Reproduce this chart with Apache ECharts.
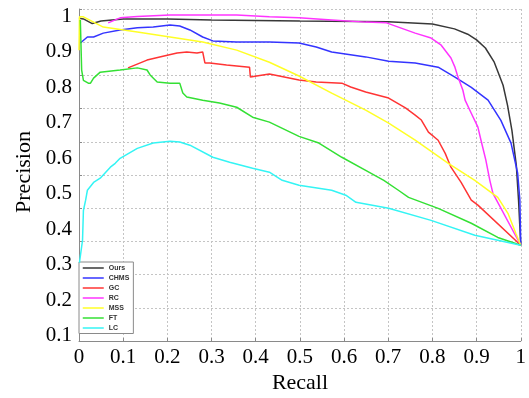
<!DOCTYPE html>
<html><head><meta charset="utf-8">
<script src="https://cdn.jsdelivr.net/npm/echarts@6/dist/echarts.min.js"></script>
<style>html,body{margin:0;padding:0;background:#fff}#c{width:529px;height:398px}</style>
</head><body><div id="c"></div>
<script>
const seriesNames = ['Ours', 'CHMS', 'GC', 'RC', 'MSS', 'FT', 'LC'];
const seriesColors = ['#383838', '#3434ff', '#ff3434', '#ff34ff', '#ffff26', '#34e034', '#34f4f4'];
const yTickLabels = [0.1, 0.2, 0.3, 0.4, 0.5, 0.6, 0.7, 0.8, 0.9, 1];

const oursRecall = [0, 0.01, 0.03, 0.05, 0.1, 0.2, 0.3, 0.5, 0.7, 0.8, 0.85, 0.88, 0.9, 0.92, 0.94, 0.96, 0.97, 0.98, 0.99, 0.995, 1];
const oursPrecision = [0.995, 0.993, 0.98, 0.987, 0.993, 0.993, 0.99, 0.987, 0.985, 0.979, 0.965, 0.95, 0.934, 0.911, 0.871, 0.806, 0.75, 0.679, 0.58, 0.482, 0.355];

const chmsRecall = [0.003, 0.019, 0.033, 0.055, 0.093, 0.132, 0.168, 0.206, 0.228, 0.251, 0.28, 0.303, 0.357, 0.431, 0.498, 0.537, 0.572, 0.649, 0.701, 0.761, 0.813, 0.851, 0.888, 0.926, 0.955, 0.978, 0.993, 0.998, 1];
const chmsPrecision = [0.925, 0.942, 0.942, 0.953, 0.962, 0.968, 0.97, 0.976, 0.973, 0.962, 0.942, 0.931, 0.928, 0.928, 0.925, 0.914, 0.9, 0.886, 0.874, 0.869, 0.857, 0.829, 0.8, 0.764, 0.707, 0.643, 0.558, 0.482, 0.355];

const gcRecall = [0.111, 0.154, 0.19, 0.222, 0.244, 0.267, 0.28, 0.285, 0.296, 0.334, 0.386, 0.388, 0.402, 0.431, 0.498, 0.537, 0.595, 0.615, 0.649, 0.701, 0.739, 0.761, 0.775, 0.791, 0.813, 0.829, 0.842, 0.865, 0.888, 0.903, 1];
const gcPrecision = [0.855, 0.877, 0.888, 0.897, 0.9, 0.897, 0.9, 0.869, 0.869, 0.863, 0.857, 0.829, 0.832, 0.838, 0.821, 0.815, 0.812, 0.801, 0.787, 0.77, 0.742, 0.722, 0.708, 0.674, 0.651, 0.614, 0.575, 0.532, 0.482, 0.468, 0.355];

const rcRecall = [0.066, 0.093, 0.132, 0.206, 0.28, 0.357, 0.431, 0.498, 0.572, 0.649, 0.696, 0.723, 0.761, 0.797, 0.82, 0.842, 0.851, 0.858, 0.869, 0.874, 0.888, 0.903, 0.91, 0.921, 0.93, 0.937, 1];
const rcPrecision = [0.982, 0.996, 1.0, 1.004, 1.004, 1.004, 0.999, 0.996, 0.99, 0.984, 0.982, 0.97, 0.953, 0.939, 0.919, 0.883, 0.857, 0.829, 0.792, 0.764, 0.727, 0.688, 0.651, 0.595, 0.538, 0.501, 0.355];

const mssRecall = [0, 0.001, 0.01, 0.055, 0.132, 0.206, 0.28, 0.357, 0.431, 0.498, 0.572, 0.649, 0.701, 0.761, 0.836, 0.896, 0.948, 0.971, 0.989, 1];
const mssPrecision = [0.905, 0.999, 0.999, 0.97, 0.956, 0.942, 0.928, 0.905, 0.871, 0.832, 0.784, 0.736, 0.699, 0.651, 0.586, 0.538, 0.49, 0.445, 0.388, 0.355];

const ftRecall = [0.003, 0.006, 0.01, 0.021, 0.026, 0.033, 0.048, 0.093, 0.132, 0.154, 0.161, 0.177, 0.206, 0.228, 0.235, 0.244, 0.28, 0.318, 0.357, 0.393, 0.431, 0.498, 0.543, 0.595, 0.649, 0.69, 0.723, 0.746, 0.813, 0.888, 0.948, 1];
const ftPrecision = [0.99, 0.849, 0.82, 0.812, 0.812, 0.826, 0.843, 0.849, 0.855, 0.849, 0.835, 0.815, 0.812, 0.812, 0.784, 0.773, 0.764, 0.756, 0.744, 0.716, 0.702, 0.662, 0.643, 0.603, 0.566, 0.538, 0.51, 0.49, 0.459, 0.417, 0.377, 0.355];

const lcRecall = [0.001, 0.008, 0.01, 0.015, 0.019, 0.033, 0.048, 0.071, 0.082, 0.093, 0.132, 0.168, 0.206, 0.228, 0.251, 0.303, 0.341, 0.393, 0.431, 0.46, 0.498, 0.572, 0.604, 0.627, 0.701, 0.797, 0.896, 1];
const lcPrecision = [0.306, 0.369, 0.453, 0.482, 0.51, 0.532, 0.544, 0.575, 0.586, 0.6, 0.628, 0.643, 0.648, 0.646, 0.637, 0.603, 0.589, 0.572, 0.561, 0.538, 0.524, 0.51, 0.496, 0.476, 0.459, 0.425, 0.383, 0.355];

const recalls = [oursRecall, chmsRecall, gcRecall, rcRecall, mssRecall, ftRecall, lcRecall];
const precisions = [oursPrecision, chmsPrecision, gcPrecision, rcPrecision, mssPrecision, ftPrecision, lcPrecision];

const zip = (a, b) => a.map((v, i) => [v, b[i]]);
const serif = 'Liberation Serif';

const chart = echarts.init(document.getElementById('c'), null, {renderer: 'canvas'});
chart.setOption({
  animation: false,
  backgroundColor: '#fff',
  grid: {left: 79, right: 6, top: 9, bottom: 57, containLabel: false},
  xAxis: {
    type: 'value', min: 0, max: 1, interval: 0.1,
    axisLine: {show: true, lineStyle: {color: '#8a8a8a', width: 1}},
    axisTick: {show: true, inside: true, length: 3, lineStyle: {color: '#8a8a8a'}},
    axisLabel: {color: '#000', fontFamily: serif, fontSize: 21, margin: 6},
    splitLine: {show: true, lineStyle: {color: '#c4c4c4', type: [2, 2], width: 1}}
  },
  yAxis: [{
    type: 'value', min: 0, max: 1, interval: 0.1, position: 'left',
    axisLine: {show: true, lineStyle: {color: '#8a8a8a', width: 1}},
    axisTick: {show: true, inside: true, length: 3, lineStyle: {color: '#8a8a8a'}},
    axisLabel: {show: false},
    splitLine: {show: true, lineStyle: {color: '#c4c4c4', type: [2, 2], width: 1}}
  }, {
    type: 'value', min: 0.085, max: 1.021, position: 'left',
    axisLine: {show: false}, axisTick: {show: false}, splitLine: {show: false},
    axisLabel: {
      customValues: yTickLabels,
      color: '#000', fontFamily: serif, fontSize: 21, margin: 7,
      formatter: v => String(v)
    }
  }],
  legend: {
    orient: 'vertical', left: 79, top: 262,
    data: seriesNames,
    backgroundColor: '#fff', borderColor: '#8a8a8a', borderWidth: 1,
    padding: [2.5, 4, 2, 3],
    itemWidth: 21, itemHeight: 8, itemGap: 3,
    itemStyle: {opacity: 0},
    lineStyle: {width: 1.5},
    textStyle: {fontFamily: 'Liberation Sans', fontSize: 7, fontWeight: 'bold', color: '#333'}
  },
  graphic: [
    {type: 'text', x: 300, y: 383, style: {text: 'Recall', font: '22px "Liberation Serif"', fill: '#000', align: 'center', verticalAlign: 'middle'}},
    {type: 'text', x: 24, y: 172, rotation: Math.PI / 2, style: {text: 'Precision', font: '22px "Liberation Serif"', fill: '#000', align: 'center', verticalAlign: 'middle'}}
  ],
  series: seriesNames.map((name, i) => ({
    name: name, type: 'line', yAxisIndex: 1,
    data: zip(recalls[i], precisions[i]),
    symbol: 'none', smooth: false,
    lineStyle: {color: seriesColors[i], width: 1.5},
    itemStyle: {color: seriesColors[i]},
    z: 2 + i
  }))
});
</script></body></html>
